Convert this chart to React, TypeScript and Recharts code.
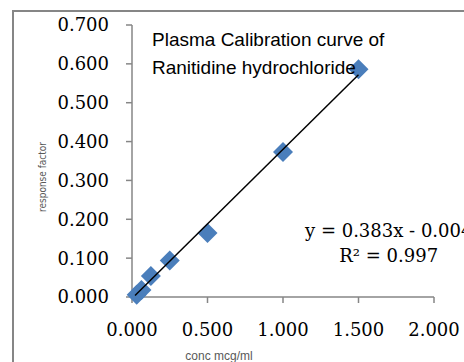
import React from 'react';
import { ScatterChart, Scatter, XAxis, YAxis } from 'recharts';

const concentrations = [0.031, 0.0625, 0.125, 0.25, 0.5, 1.0, 1.5];
const responseFactors = [0.006, 0.018, 0.054, 0.094, 0.165, 0.373, 0.586];
const trendX = [0.02, 1.5];
const trendY = [0.004, 0.572];
const xTicks = [0, 0.5, 1.0, 1.5, 2.0];
const yTicks = [0, 0.1, 0.2, 0.3, 0.4, 0.5, 0.6, 0.7];
const titleLines = ['Plasma Calibration curve of', 'Ranitidine hydrochloride'];
const equationLines = ['y = 0.383x - 0.004', 'R² = 0.997'];

const points = concentrations.map((x, i) => ({ x, y: responseFactors[i] }));
const trend = trendX.map((x, i) => ({ x, y: trendY[i] }));

const AXIS = '#868686';
const SERIF = '"DejaVu Serif", serif';

const Diamond = (props: any) => {
  const { cx, cy } = props;
  const r = 10;
  return (
    <polygon
      points={`${cx},${cy - r} ${cx + r},${cy} ${cx},${cy + r} ${cx - r},${cy}`}
      fill="#4A7EBB"
    />
  );
};

export default function App() {
  return (
    <div style={{ position: 'absolute', left: 0, top: 0, width: 464, height: 362, overflow: 'hidden', background: '#fff' }}>
      <div
        style={{
          position: 'absolute',
          left: 12,
          top: 10,
          width: 600,
          height: 600,
          border: `2px solid ${AXIS}`,
          boxSizing: 'border-box',
        }}
      />
      <div style={{ position: 'absolute', left: 0, top: 0 }}>
        <ScatterChart width={464} height={362} margin={{ top: 25, right: 30, bottom: 25, left: 0 }}>
          <XAxis
            type="number"
            dataKey="x"
            domain={[0, 2]}
            ticks={xTicks}
            tickFormatter={(v: number) => v.toFixed(3)}
            stroke={AXIS}
            strokeWidth={1.5}
            tickSize={6}
            tickMargin={20}
            height={40}
            tick={{ fill: '#000', fontFamily: SERIF, fontSize: 18 }}
            label={{
              content: () => (
                <text x={219} y={360} textAnchor="middle" fontFamily='"Liberation Sans", sans-serif' fontSize={12} fill="#595959">
                  conc  mcg/ml
                </text>
              ),
            }}
          />
          <YAxis
            type="number"
            dataKey="y"
            domain={[0, 0.7]}
            ticks={yTicks}
            tickFormatter={(v: number) => v.toFixed(3)}
            stroke={AXIS}
            strokeWidth={1.5}
            tickSize={6}
            tickMargin={17}
            width={132}
            tick={{ fill: '#000', fontFamily: SERIF, fontSize: 18 }}
            label={{
              content: () => (
                <text
                  x={43}
                  y={177}
                  transform="rotate(-90 43 177)"
                  textAnchor="middle"
                  dominantBaseline="middle"
                  fontFamily='"DejaVu Sans Condensed", "Liberation Sans Narrow", sans-serif'
                  fontSize={10}
                  fill="#595959"
                >
                  response factor
                </text>
              ),
            }}
          />
          <Scatter data={points} shape={<Diamond />} isAnimationActive={false} />
          <Scatter
            data={trend}
            line={{ stroke: '#000', strokeWidth: 1.5 }}
            shape={() => null}
            isAnimationActive={false}
          />
        </ScatterChart>
      </div>
      <div
        style={{
          position: 'absolute',
          left: 152,
          top: 26,
          fontFamily: '"Liberation Sans", sans-serif',
          fontSize: 19,
          lineHeight: '28px',
          color: '#000',
          whiteSpace: 'nowrap',
        }}
      >
        {titleLines.map((t) => (
          <div key={t}>{t}</div>
        ))}
      </div>
      <div
        style={{
          position: 'absolute',
          left: 305,
          top: 218,
          fontFamily: SERIF,
          fontSize: 18,
          lineHeight: '25px',
          color: '#000',
          whiteSpace: 'nowrap',
          textAlign: 'center',
        }}
      >
        {equationLines.map((t) => (
          <div key={t}>{t}</div>
        ))}
      </div>
    </div>
  );
}
